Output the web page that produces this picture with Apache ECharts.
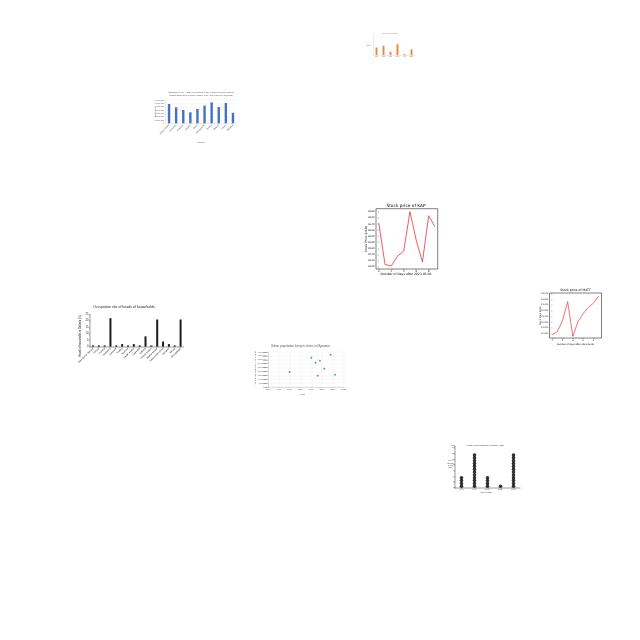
<!DOCTYPE html>
<html>
<head>
<meta charset="utf-8">
<script src="https://cdn.jsdelivr.net/npm/echarts@6/dist/echarts.min.js"></script>
<style>
html,body{margin:0;padding:0;background:#fff}
#main{width:640px;height:640px}
</style>
</head>
<body>
<div id="main"></div>
<script>
// 1 橙色小柱状图
var costCats = ['Rent','Food','Bills','Travel','Tax','Other'];
var costVals = [98,119,45,139,16,74];

// 2 蓝色柱状图
var countryCats = ['United States','Indonesia','Pakistan','Nigeria','Brazil','Bangladesh','Russia','Mexico','Japan','Ethiopia'];
var countryVals = [5800000,4800000,4000000,3300000,4300000,5300000,6300000,4900000,6100000,3150000];

// 3 KAP 股价
var kapDays = [0,1,2,3,4,5,6,7,8,9];
var kapPrice = [36.43,35.07,35.02,35.34,35.51,36.80,35.87,35.15,36.67,36.31];
var kapTicks = [35.0,35.2,35.4,35.6,35.8,36.0,36.2,36.4,36.6,36.8];

// 4 MATT 股价
var mattDays = [0,1,2,3,4,5,6,7,8,9];
var mattPrice = [10.39,10.67,11.66,13.29,10.25,11.52,12.22,12.78,13.15,13.77];
var mattTicks = [10.5,11.0,11.5,12.0,12.5,13.0,13.5,14.0];
var dayTicks = [0,2,4,6,8];

// 5 户主职业
var jobCats = ['Subsistence farming','Fishing','Hunting','Gardening','Livestock','Trading','Teaching','Health worker','Carpentry','Tailoring','Church worker','Market vendor','Government office','Transport','Mining','Unemployed'];
var jobVals = [1,1,1,22,1,2,1,2,1,8,1,21,4,2,1,21];

// 6 缅甸贫民窟人口
var slumYears = [2000,2010,2012,2014,2019,2016,2013,2021];
var slumPop = [1930000,3770000,3120000,3380000,4150000,2350000,1450000,1580000];

// 7 点图
var groupCats = ['40-44','45-49','50-54','55-59','60-64'];
var groupCounts = [4,12,4,1,12];

var DJ = 'DejaVu Sans', LS = 'Liberation Sans';

function txt(x, y, s, size, o){
	o = o || {};
	return {
		type:'text', x:x, y:y, rotation:o.rot || 0,
		style:{text:s, fontSize:size, fontFamily:o.font || LS, fill:o.color || '#404040',
			align:'center', verticalAlign:'middle'}
	};
}

var dotData = [];
for (var i = 0; i < groupCounts.length; i++) {
	for (var k = 1; k <= groupCounts[i]; k++) {
		dotData.push([i, k - 0.5]);
	}
}

var mplAxis = function(fs){
	return {
		axisLine:{show:false}, splitLine:{show:false},
		axisTick:{show:true, length:1, lineStyle:{color:'#000', width:0.4}},
		axisLabel:{fontSize:fs, fontFamily:DJ, color:'#000', margin:1.5}
	};
};

var option = {
	animation:false,
	backgroundColor:'#fff',
	grid:[
		{left:373, top:35, width:42, height:20.3},
		{left:165.5, top:100, width:71, height:23.3},
		{left:376, top:208.7, width:61.7, height:60.3, show:true, borderColor:'#000', borderWidth:0.5},
		{left:549.5, top:293, width:52, height:45, show:true, borderColor:'#000', borderWidth:0.5},
		{left:90, top:314.3, width:93.5, height:32.4},
		{left:268, top:352, width:75.7, height:35},
		{left:455, top:446, width:65, height:41.7}
	],
	xAxis:[
		{gridIndex:0, type:'category', data:costCats,
			axisLine:{lineStyle:{color:'#d9d9d9', width:0.5}}, axisTick:{show:false},
			axisLabel:{fontSize:1.4, color:'#777', margin:1, interval:0}},
		{gridIndex:1, type:'category', data:countryCats,
			axisLine:{lineStyle:{color:'#d9d9d9', width:0.5}}, axisTick:{show:false},
			axisLabel:{fontSize:2.2, color:'#595959', rotate:45, margin:1.5, interval:0}},
		Object.assign({gridIndex:2, type:'value', min:-0.45, max:9.45}, mplAxis(2.4), {
			axisLabel:{fontSize:2.4, fontFamily:DJ, color:'#000', margin:1.5, customValues:dayTicks},
			axisTick:{show:true, length:1, lineStyle:{color:'#000', width:0.4}, customValues:dayTicks}}),
		Object.assign({gridIndex:3, type:'value', min:-0.55, max:9.6}, mplAxis(2), {
			axisLabel:{fontSize:2, fontFamily:DJ, color:'#000', margin:1.3, customValues:dayTicks},
			axisTick:{show:true, length:1, lineStyle:{color:'#000', width:0.4}, customValues:dayTicks}}),
		{gridIndex:4, type:'category', data:jobCats,
			axisLine:{lineStyle:{color:'#000', width:0.4}}, axisTick:{show:false},
			axisLabel:{fontSize:2.3, color:'#222', rotate:45, margin:1.5, interval:0}},
		{gridIndex:5, type:'value', min:1990, max:2025, interval:5,
			axisLine:{lineStyle:{color:'#bfbfbf', width:0.5}},
			axisTick:{show:true, length:1, lineStyle:{color:'#bfbfbf', width:0.4}},
			splitLine:{show:true, lineStyle:{color:'#ececec', width:0.4}},
			axisLabel:{fontSize:2, color:'#595959', margin:1.5}},
		{gridIndex:6, type:'category', data:groupCats,
			axisLine:{lineStyle:{color:'#000', width:0.4}},
			axisTick:{show:true, length:1, alignWithLabel:true, lineStyle:{color:'#000', width:0.4}},
			axisLabel:{fontSize:1.7, color:'#333', margin:1.2, interval:0}}
	],
	yAxis:[
		{gridIndex:0, type:'value', min:0, max:250, interval:50,
			axisLine:{show:true, lineStyle:{color:'#d9d9d9', width:0.5}},
			splitLine:{show:false}, axisLabel:{show:false}},
		{gridIndex:1, type:'value', min:0, max:7000000, interval:1000000,
			axisLine:{show:true, lineStyle:{color:'#d9d9d9', width:0.5}},
			splitLine:{show:true, lineStyle:{color:'#ececec', width:0.4}},
			axisLabel:{fontSize:2.2, color:'#595959', margin:1.2}},
		Object.assign({gridIndex:2, type:'value', min:34.92, max:36.9}, mplAxis(2.4), {
			axisLabel:{fontSize:2.3, fontFamily:DJ, color:'#000', margin:1.5, customValues:kapTicks,
				formatter:function(v){return v.toFixed(2);}},
			axisTick:{show:true, length:1, lineStyle:{color:'#000', width:0.4}, customValues:kapTicks}}),
		Object.assign({gridIndex:3, type:'value', min:10.1, max:14.05}, mplAxis(2), {
			axisLabel:{fontSize:2, fontFamily:DJ, color:'#000', margin:1.3, customValues:mattTicks,
				formatter:function(v){return v.toFixed(3);}},
			axisTick:{show:true, length:1, lineStyle:{color:'#000', width:0.4}, customValues:mattTicks}}),
		{gridIndex:4, type:'value', min:0, max:25, interval:5,
			axisLine:{show:true, lineStyle:{color:'#000', width:0.4}},
			axisTick:{show:true, length:1, lineStyle:{color:'#000', width:0.4}},
			splitLine:{show:false}, axisLabel:{fontSize:2.6, color:'#222', margin:1.5}},
		{gridIndex:5, type:'value', min:0, max:4500000, interval:500000,
			axisLine:{show:true, lineStyle:{color:'#bfbfbf', width:0.5}},
			splitLine:{show:true, lineStyle:{color:'#ececec', width:0.4}},
			axisLabel:{fontSize:2, color:'#595959', margin:1.5}},
		{gridIndex:6, type:'value', min:0, max:14.7, interval:2,
			axisLine:{show:true, lineStyle:{color:'#000', width:0.4}},
			axisTick:{show:true, length:1, lineStyle:{color:'#000', width:0.4}},
			splitLine:{show:false}, axisLabel:{fontSize:1.5, color:'#333', margin:1}}
	],
	series:[
		{type:'bar', xAxisIndex:0, yAxisIndex:0, data:costVals, barWidth:2.2,
			itemStyle:{color:'#ED7D31', borderColor:'#F8C9A6', borderWidth:0.4}},
		{type:'bar', xAxisIndex:1, yAxisIndex:1, data:countryVals, barWidth:2.4,
			itemStyle:{color:'#4472C4'}},
		{type:'line', xAxisIndex:2, yAxisIndex:2, symbol:'none',
			data:kapDays.map(function(d,i){return [d, kapPrice[i]];}),
			lineStyle:{color:'#e8353a', width:0.8}},
		{type:'line', xAxisIndex:3, yAxisIndex:3, symbol:'none',
			data:mattDays.map(function(d,i){return [d, mattPrice[i]];}),
			lineStyle:{color:'#e8353a', width:0.7}},
		{type:'bar', xAxisIndex:4, yAxisIndex:4, data:jobVals, barWidth:2,
			itemStyle:{color:'#1c1c1c'}},
		{type:'scatter', xAxisIndex:5, yAxisIndex:5, symbol:'diamond', symbolSize:2.4,
			data:slumYears.map(function(y,i){return [y, slumPop[i]];}),
			itemStyle:{color:'#4472C4'}},
		{type:'scatter', xAxisIndex:6, yAxisIndex:6, symbolSize:3.6,
			data:dotData, itemStyle:{color:'#000'}}
	],
	graphic:[
		// 1
		txt(390, 33.5, 'Monthly Expenses 2023', 1.5, {color:'#888'}),
		txt(368.5, 45, '£(k)', 2.2, {color:'#555'}),
		// 2
		txt(201, 92.5, 'Estimated 1990 - 2021 Population of the Most Populous Nations', 2.3, {color:'#595959'}),
		txt(201, 95.8, '(Latest Estimates, Country Totals, Mid-Year Values in Persons)', 2.3, {color:'#595959'}),
		txt(155.5, 112, 'Population', 2.2, {color:'#595959', rot:Math.PI/2}),
		txt(201, 142, 'Country', 2.3, {color:'#595959'}),
		// 3
		txt(406, 205.5, 'Stock price of KAP', 4.3, {font:DJ, color:'#000'}),
		txt(406, 274.5, 'Number of Days after 2023-05-08', 3, {font:DJ, color:'#000'}),
		txt(366.5, 239, 'Stock Price (USD)', 3, {font:DJ, color:'#000', rot:Math.PI/2}),
		// 4
		txt(575.5, 289.8, 'Stock price of MATT', 3.1, {font:DJ, color:'#000'}),
		txt(575.5, 344.2, 'Number of Days after 2023-05-08', 2.2, {font:DJ, color:'#000'}),
		txt(540.5, 315.5, 'Stock Price (USD)', 2.2, {font:DJ, color:'#000', rot:Math.PI/2}),
		// 5
		txt(124, 307.3, 'Occupation site of heads of households', 3.5, {color:'#222'}),
		txt(80.7, 336, 'Heads of households in Dahadu (%)', 2.6, {color:'#222', rot:Math.PI/2}),
		// 6
		txt(300.5, 346, 'Urban population living in slums in Myanmar', 3, {color:'#595959'}),
		txt(302, 394, 'Years', 2.2, {color:'#595959'}),
		txt(255, 368, 'No. of urban population living in slums', 2, {color:'#595959', rot:Math.PI/2}),
		// 7
		txt(485, 445.5, 'Average Weight of Students in Grammar Village', 1.8, {color:'#333'}),
		txt(450.5, 461, 'No. of', 1.6, {color:'#333'}),
		txt(450.5, 463.2, 'Students', 1.6, {color:'#333'}),
		txt(450.5, 465.4, 'in each', 1.6, {color:'#333'}),
		txt(450.5, 467.6, 'group', 1.6, {color:'#333'}),
		txt(486, 492.3, 'Group Weight', 1.8, {color:'#333'})
	]
};

var chart = echarts.init(document.getElementById('main'));
chart.setOption(option);
</script>
</body>
</html>
